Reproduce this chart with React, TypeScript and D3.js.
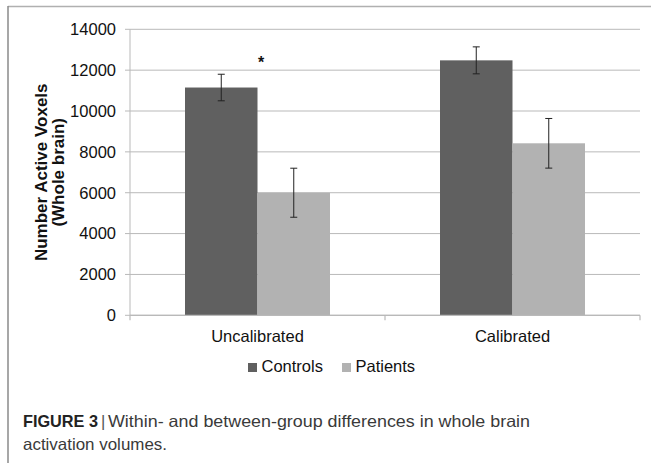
import React from "react";
import * as d3 from "d3";

const categories = ["Uncalibrated", "Calibrated"];
const seriesNames = ["Controls", "Patients"];
const controlsMean = [11150, 12480];
const controlsErr = [650, 660];
const patientsMean = [6000, 8420];
const patientsErr = [1200, 1215];
const yTicks = [0, 2000, 4000, 6000, 8000, 10000, 12000, 14000];
const significance = ["*", ""];

const colors = ["#606060", "#b2b2b2"];

export default function App() {
  const W = 651, H = 463;
  const left = 130, right = 640, top = 29.3, bottom = 315.3;
  const y = d3.scaleLinear().domain([0, 14000]).range([bottom, top]);
  const x0 = d3.scaleBand<string>().domain(categories).range([left, right]).paddingInner(0).paddingOuter(0);
  const groupW = 145;
  const x1 = d3.scaleBand<string>().domain(seriesNames).range([0, groupW]).padding(0);
  const means = [controlsMean, patientsMean];
  const errs = [controlsErr, patientsErr];
  const font = "'Liberation Sans', Arial, sans-serif";
  const gridColor = "#b9b9b9";
  const catTicks = [left, ...categories.map((c) => (x0(c) as number) + x0.bandwidth())];

  return (
    <svg width={W} height={H} style={{ position: "absolute", left: 0, top: 0, background: "#fff" }} fontFamily={font}>
      {/* outer frame */}
      <line x1={8} y1={6.5} x2={W} y2={6.5} stroke="#b0b0b0" strokeWidth={1.5} />
      <line x1={8} y1={6} x2={8} y2={H} stroke="#8a8a8a" strokeWidth={1.5} />

      {/* gridlines */}
      {yTicks.map((t) => (
        <line key={"g" + t} x1={left} x2={right} y1={y(t)} y2={y(t)} stroke={gridColor} strokeWidth={1} />
      ))}
      {/* y axis */}
      <line x1={left} x2={left} y1={top} y2={bottom} stroke={gridColor} strokeWidth={1} />
      {yTicks.map((t) => (
        <g key={"t" + t}>
          <line x1={left - 5} x2={left} y1={y(t)} y2={y(t)} stroke={gridColor} strokeWidth={1} />
          <text x={left - 14} y={y(t)} dy="0.35em" textAnchor="end" fontSize={16.5} fill="#111">
            {t}
          </text>
        </g>
      ))}

      {/* bars */}
      {categories.map((c, ci) => {
        const gx = (x0(c) as number) + (x0.bandwidth() - groupW) / 2;
        return (
          <g key={c}>
            {seriesNames.map((s, si) => {
              const v = means[si][ci];
              const e = errs[si][ci];
              const bx = gx + (x1(s) as number);
              const cx = bx + x1.bandwidth() / 2;
              return (
                <g key={s}>
                  <rect x={bx} y={y(v)} width={x1.bandwidth()} height={bottom - y(v)} fill={colors[si]} />
                  <line x1={cx} x2={cx} y1={y(v + e)} y2={y(v - e)} stroke="#222" strokeWidth={1} />
                  <line x1={cx - 3.5} x2={cx + 3.5} y1={y(v + e)} y2={y(v + e)} stroke="#222" strokeWidth={1} />
                  <line x1={cx - 3.5} x2={cx + 3.5} y1={y(v - e)} y2={y(v - e)} stroke="#222" strokeWidth={1} />
                </g>
              );
            })}
            {significance[ci] && (
              <text x={gx + groupW / 2 + 3.5} y={68} textAnchor="middle" fontSize={16} fontWeight="bold" fill="#111">
                {significance[ci]}
              </text>
            )}
            <text x={(x0(c) as number) + x0.bandwidth() / 2} y={342} textAnchor="middle" fontSize={16.5} fill="#111">
              {c}
            </text>
          </g>
        );
      })}

      {/* x axis */}
      <line x1={left} x2={right} y1={bottom} y2={bottom} stroke={gridColor} strokeWidth={1.2} />
      {catTicks.map((t, i) => (
        <line key={"xt" + i} x1={t} x2={t} y1={bottom} y2={bottom + 5} stroke={gridColor} strokeWidth={1.2} />
      ))}

      {/* y axis title */}
      <g transform={`translate(47,${(top + bottom) / 2}) rotate(-90)`}>
        <text textAnchor="middle" fontSize={17} fontWeight="bold" fill="#111">
          Number Active Voxels
        </text>
        <text y={17} textAnchor="middle" fontSize={17} fontWeight="bold" fill="#111">
          (Whole brain)
        </text>
      </g>

      {/* legend */}
      {seriesNames.map((s, i) => {
        const lx = [248, 342][i];
        return (
          <g key={"l" + s}>
            <rect x={lx} y={363} width={9} height={9} fill={colors[i]} />
            <text x={lx + 13.5} y={372} fontSize={16.5} fill="#111">
              {s}
            </text>
          </g>
        );
      })}

      {/* caption */}
      <text x={23} y={427} fontSize={16.5} fontWeight="bold" fill="#222" textLength={75} lengthAdjust="spacingAndGlyphs">
        FIGURE 3
      </text>
      <text x={101} y={427} fontSize={16.5} fill="#555">|</text>
      <text x={108} y={427} fontSize={16.5} fill="#3a3a3a" textLength={422} lengthAdjust="spacingAndGlyphs">
        Within- and between-group differences in whole brain
      </text>
      <text x={23} y={450} fontSize={16.5} fill="#3a3a3a" textLength={144} lengthAdjust="spacingAndGlyphs">
        activation volumes.
      </text>
    </svg>
  );
}
